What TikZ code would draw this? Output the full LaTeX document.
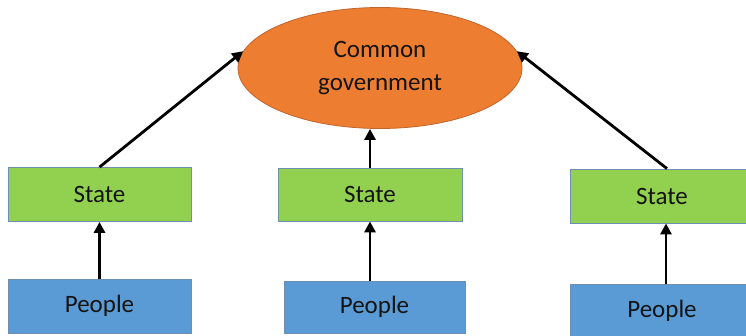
\documentclass[tikz,border=0pt]{standalone}
\usepackage{fontspec}
\setmainfont{Carlito}
\usetikzlibrary{shapes.geometric,arrows.meta}
\definecolor{govfill}{HTML}{ED7D31}
\definecolor{govline}{HTML}{C0652A}
\definecolor{statefill}{HTML}{92D050}
\definecolor{peoplefill}{HTML}{5B9BD5}
\definecolor{boxline}{HTML}{6F8FB0}
\definecolor{txt}{HTML}{141414}
\tikzset{
  x=1pt, y=1pt,
  govnode/.style={ellipse, draw=govline, fill=govfill, line width=0.8pt,
    minimum width=284pt, minimum height=121pt, inner sep=0pt,
    align=center, text=txt, font=\fontsize{25}{33}\selectfont},
  statebox/.style={rectangle, draw=boxline, fill=statefill, line width=0.8pt,
    minimum width=183pt, minimum height=54pt, inner sep=0pt,
    text=txt, font=\fontsize{25}{30}\selectfont},
  peoplebox/.style={statebox, fill=peoplefill},
  link/.style={line width=2.8pt, -{Triangle[length=11pt,width=11pt]}}
}
\begin{document}
\begin{tikzpicture}
\clip (0,0) rectangle (746,335);
\fill[white] (0,0) rectangle (746,335);

% top: the common government
\node[govnode] (gov) at (380,267) {Common\\government};

% states
\node[statebox] (s1) at (99.5,140.5) {State};
\node[statebox, minimum width=184pt, minimum height=53pt] (s2) at (370,140.5) {State};
\node[statebox] (s3) at (662,139) {State};

% people
\node[peoplebox] (p1) at (99.5,29) {People};
\node[peoplebox, minimum width=181pt, minimum height=52pt] (p2) at (374.5,28) {People};
\node[peoplebox] (p3) at (662,24) {People};

% people elect their state
\draw[link] (p1.north -| s1.north) -- (s1.south);
\draw[link] (p2.north -| s2.north) -- (s2.south);
\draw[link] ([xshift=4pt]p3.north) -- ([xshift=4pt]s3.south);

% states delegate to the common government
\draw[link] (s1.north) -- (gov.173);
\draw[link] (s2.north) -- (gov.south -| s2.north);
\draw[link] ([xshift=5pt]s3.north) -- (gov.7);
\end{tikzpicture}
\end{document}
